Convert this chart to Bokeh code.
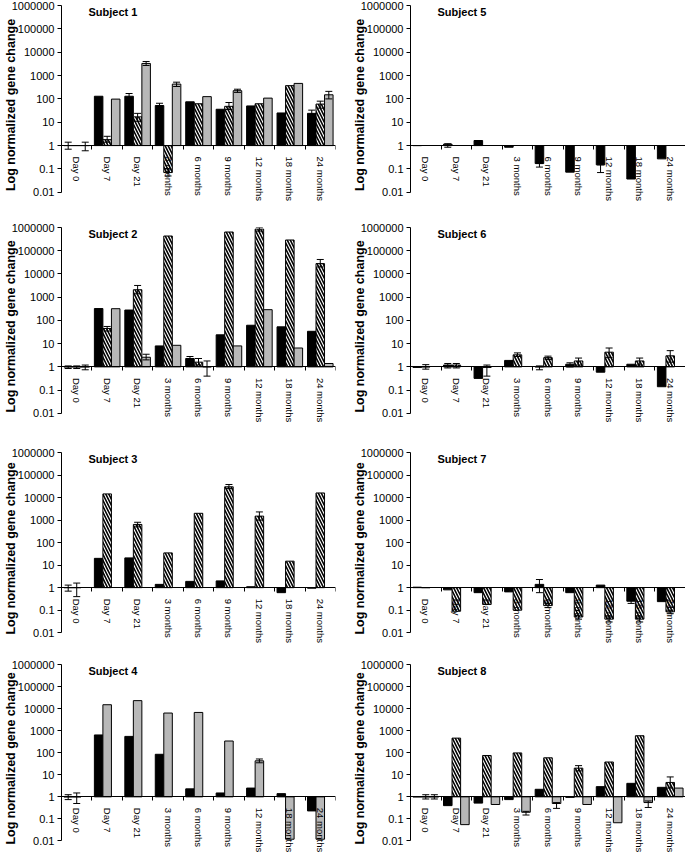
from bokeh.plotting import figure
from bokeh.models import Range1d, FixedTicker, Whisker, TeeHead, ColumnDataSource, Label
from bokeh.layouts import column, row
from bokeh.embed import file_html
from bokeh.resources import INLINE

CATEGORIES = ["Day 0", "Day 7", "Day 21", "3 months", "6 months",
              "9 months", "12 months", "18 months", "24 months"]
Y_TICKS = [0.01, 0.1, 1, 10, 100, 1000, 10000, 100000, 1000000]
Y_TICK_LABELS = ["0.01", "0.1", "1", "10", "100", "1000", "10000", "100000", "1000000"]
Y_LABEL = "Log normalized gene change"

# ---- Subject 1 ----
S1_BLACK = [1.0, 130, 130, 52, 75, 36, 50, 25, 24]
S1_BLACK_ERR = [(0.7, 1.4), None, (100, 170), (42, 65), None, None, None, None, (18, 33)]
S1_HATCH = [1.0, 1.8, 17, 0.07, 62, 48, 62, 370, 60]
S1_HATCH_ERR = [None, (1.4, 2.5), (11, 24), (0.05, 0.1), None, (35, 70), None, None, (40, 80)]
S1_GRAY = [1.0, 98, 3300, 430, 125, 225, 108, 460, 150]
S1_GRAY_ERR = [(0.6, 1.4), None, (2700, 4000), (340, 520), None, (190, 260), None, None, (100, 210)]

# ---- Subject 2 ----
S2_BLACK = [1.0, 325, 280, 8, 2.3, 24, 62, 53, 34]
S2_BLACK_ERR = [(0.85, 1.1), None, None, None, (1.8, 2.8), None, None, None, None]
S2_HATCH = [1.0, 45, 2100, 430000, 1.6, 640000, 850000, 290000, 28000]
S2_HATCH_ERR = [(0.85, 1.1), (35, 55), (1400, 3200), None, (1.2, 2.3), None, (700000, 1000000), None, (20000, 42000)]
S2_GRAY = [1.0, 320, 2.6, 8.5, 1.0, 8, 290, 6.5, 1.4]
S2_GRAY_ERR = [(0.75, 1.2), None, (2, 3.5), None, (0.4, 1.8), None, None, None, None]

# ---- Subject 3 ----
S3_BLACK = [1.0, 20, 21, 1.4, 1.9, 2.0, 1.1, 0.6, 0.95]
S3_BLACK_ERR = [(0.7, 1.3), None, None, None, None, None, None, None, None]
S3_HATCH = [1.0, 14500, 640, 35, 2000, 30000, 1500, 15, 16000]
S3_HATCH_ERR = [(0.4, 1.6), None, (500, 800), None, None, (25000, 38000), (1000, 2300), None, None]

# ---- Subject 4 ----
S4_BLACK = [1.0, 640, 550, 85, 2.3, 1.5, 2.5, 1.4, 0.23]
S4_BLACK_ERR = [(0.75, 1.25), None, None, None, None, None, None, None, None]
S4_GRAY = [1.0, 15000, 23000, 6300, 6700, 340, 43, 0.012, 0.012]
S4_GRAY_ERR = [(0.5, 1.5), None, None, None, None, None, (35, 52), None, None]

# ---- Subject 5 ----
S5_BLACK = [1.0, 1.15, 1.65, 0.85, 0.17, 0.073, 0.15, 0.037, 0.27]
S5_BLACK_ERR = [None, (0.85, 1.2), None, None, (0.12, 0.17), None, (0.07, 0.15), None, None]

# ---- Subject 6 ----
S6_BLACK = [0.95, 1.2, 0.32, 1.9, 1.0, 1.3, 0.59, 1.3, 0.14]
S6_BLACK_ERR = [None, (0.9, 1.4), None, None, (0.75, 1.1), (1.0, 1.5), None, None, None]
S6_HATCH = [1.0, 1.2, 0.95, 3.3, 2.5, 1.8, 4.3, 1.8, 3.0]
S6_HATCH_ERR = [(0.8, 1.25), (0.9, 1.4), (0.4, 1.2), (2.8, 4.0), (2.1, 2.9), (1.2, 2.4), (2.5, 6.5), (1.2, 2.4), (1.6, 5.0)]

# ---- Subject 7 ----
S7_BLACK = [1.05, 0.8, 0.6, 0.65, 1.4, 0.6, 1.3, 0.25, 0.24]
S7_BLACK_ERR = [None, None, None, None, (0.6, 2.3), None, None, (0.2, 0.3), None]
S7_HATCH = [1.0, 0.09, 0.18, 0.1, 0.16, 0.05, 0.04, 0.04, 0.085]
S7_HATCH_ERR = [None, None, None, None, (0.13, 0.2), (0.04, 0.06), (0.03, 0.05), (0.03, 0.05), (0.07, 0.1)]

# ---- Subject 8 ----
S8_BLACK = [1.0, 0.4, 0.52, 0.75, 2.2, 0.95, 2.9, 4.1, 2.7]
S8_BLACK_ERR = [None] * 9
S8_HATCH = [1.0, 460, 75, 98, 59, 20, 38, 590, 4.5]
S8_HATCH_ERR = [(0.8, 1.25), None, None, None, None, (15, 26), None, None, (2.5, 8)]
S8_GRAY = [1.0, 0.055, 0.45, 0.2, 0.5, 0.45, 0.067, 0.55, 2.5]
S8_GRAY_ERR = [(0.8, 1.25), None, None, (0.15, 0.22), (0.3, 0.55), None, None, (0.33, 0.65), None]

FONT = "Liberation Sans"
GRAY = "#b8b8b8"
STYLES = {
    "black": dict(fill_color="black"),
    "hatch": dict(fill_color="white", hatch_pattern="\\", hatch_color="black",
                  hatch_scale=6, hatch_weight=1.6),
    "gray": dict(fill_color=GRAY),
}
OFFSETS = [-0.28, 0.0, 0.28]
BAR_W = 0.28
Y_MIN, Y_MAX = 0.003, 1e6   # frame extends a little below 0.01 so labels fit


def make_panel(title, series, width, height, left_col, top, bottom):
    p = figure(width=width, height=height, x_range=Range1d(-0.5, 8.5),
               y_range=Range1d(Y_MIN, Y_MAX), y_axis_type="log",
               output_backend="svg", toolbar_location=None, tools="")
    p.min_border = 0
    p.min_border_left = 58
    p.min_border_right = 14 if left_col else 0
    p.min_border_top = top
    p.min_border_bottom = bottom
    p.outline_line_color = None
    p.xgrid.visible = False
    p.ygrid.visible = False
    p.background_fill_color = "white"
    p.border_fill_color = "white"

    # y axis
    ya = p.yaxis[0]
    ya.bounds = (Y_TICKS[0], Y_TICKS[-1])
    ya.ticker = FixedTicker(ticks=Y_TICKS)
    ya.major_label_overrides = dict(zip(Y_TICKS, Y_TICK_LABELS))
    ya.minor_tick_line_color = None
    ya.major_tick_out = 4
    ya.major_tick_in = 0
    ya.major_label_standoff = 3
    ya.major_label_text_font = FONT
    ya.major_label_text_font_size = "11px"
    ya.major_label_text_color = "black"
    ya.axis_line_color = "black"
    ya.major_tick_line_color = "black"
    ya.axis_label = Y_LABEL
    ya.axis_label_text_font = FONT
    ya.axis_label_text_font_style = "bold"
    ya.axis_label_text_font_size = "12.5px"
    ya.axis_label_text_color = "black"
    ya.axis_label_standoff = -9

    # x axis crossing at 1
    xa = p.xaxis[0]
    xa.fixed_location = 1
    xa.ticker = FixedTicker(ticks=list(range(len(CATEGORIES))),
                            minor_ticks=[i + 0.5 for i in range(len(CATEGORIES))])
    xa.major_label_overrides = {i: c for i, c in enumerate(CATEGORIES)}
    xa.major_label_orientation = "vertical"
    xa.major_tick_out = 0
    xa.major_tick_in = 0
    xa.minor_tick_out = 4
    xa.minor_tick_in = 0
    xa.minor_tick_line_color = "black"
    xa.major_label_standoff = 7
    xa.major_label_text_font = FONT
    xa.major_label_text_font_size = "9.5px"
    xa.major_label_text_color = "black"
    xa.axis_line_color = "black"

    for slot, (kind, vals, errs) in enumerate(series):
        xs = [i + OFFSETS[slot] for i in range(len(vals))]
        src = ColumnDataSource(dict(x=xs, top=vals))
        p.vbar(x="x", top="top", bottom=1, width=BAR_W, source=src,
               line_color="black", line_width=1, **STYLES[kind])
        ex, lo, hi = [], [], []
        for x, e in zip(xs, errs):
            if e is not None:
                ex.append(x)
                lo.append(e[0])
                hi.append(e[1])
        if ex:
            esrc = ColumnDataSource(dict(x=ex, lo=lo, hi=hi))
            w = Whisker(source=esrc, base="x", lower="lo", upper="hi",
                        line_color="black", line_width=1, level="annotation",
                        upper_head=TeeHead(size=7, line_color="black", line_width=1),
                        lower_head=TeeHead(size=7, line_color="black", line_width=1))
            p.add_layout(w)

    lab = Label(x=-0.5, y=Y_MAX, x_offset=27, y_offset=0, text=title,
                text_font=FONT, text_font_style="bold", text_font_size="11px",
                text_baseline="top", text_color="black")
    p.add_layout(lab)
    return p


LW, RW = 349, 336
# (figure height, top border, bottom border)
rows_cfg = [(204, 5, 0), (221, 23, 0), (219, 27, 0), (208, 20, 0)]

left = [
    ("Subject 1", [("black", S1_BLACK, S1_BLACK_ERR), ("hatch", S1_HATCH, S1_HATCH_ERR), ("gray", S1_GRAY, S1_GRAY_ERR)]),
    ("Subject 2", [("black", S2_BLACK, S2_BLACK_ERR), ("hatch", S2_HATCH, S2_HATCH_ERR), ("gray", S2_GRAY, S2_GRAY_ERR)]),
    ("Subject 3", [("black", S3_BLACK, S3_BLACK_ERR), ("hatch", S3_HATCH, S3_HATCH_ERR)]),
    ("Subject 4", [("black", S4_BLACK, S4_BLACK_ERR), ("gray", S4_GRAY, S4_GRAY_ERR)]),
]
right = [
    ("Subject 5", [("black", S5_BLACK, S5_BLACK_ERR)]),
    ("Subject 6", [("black", S6_BLACK, S6_BLACK_ERR), ("hatch", S6_HATCH, S6_HATCH_ERR)]),
    ("Subject 7", [("black", S7_BLACK, S7_BLACK_ERR), ("hatch", S7_HATCH, S7_HATCH_ERR)]),
    ("Subject 8", [("black", S8_BLACK, S8_BLACK_ERR), ("hatch", S8_HATCH, S8_HATCH_ERR), ("gray", S8_GRAY, S8_GRAY_ERR)]),
]

rows = []
for (h, t, b), (lt, ls), (rt, rs) in zip(rows_cfg, left, right):
    pl = make_panel(lt, ls, LW, h, True, t, b)
    pr = make_panel(rt, rs, RW, h, False, t, b)
    rows.append(row(pl, pr))

layout = column(*rows)
open("out.html", "w").write(file_html(layout, INLINE))
